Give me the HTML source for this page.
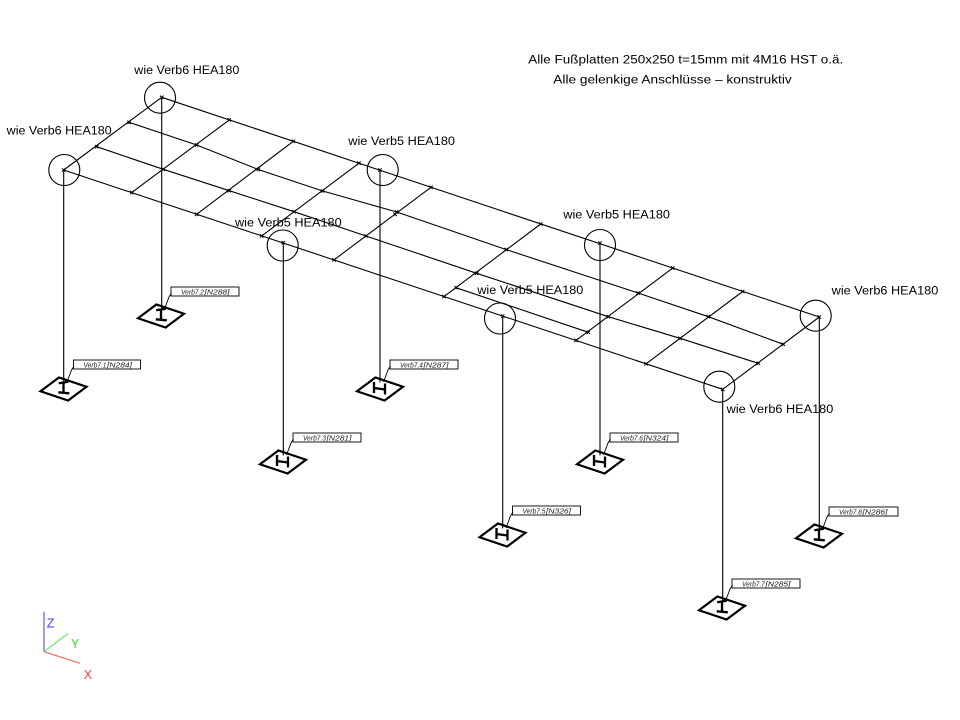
<!DOCTYPE html>
<html><head><meta charset="utf-8"><style>
html,body{margin:0;padding:0;background:#fff;}
svg{display:block;}
text{font-family:"Liberation Sans","DejaVu Sans",sans-serif;}
</style></head><body>
<svg width="960" height="720" viewBox="0 0 960 720" xmlns="http://www.w3.org/2000/svg">
<rect width="960" height="720" fill="#fff"/>
<g stroke="#000" stroke-width="1.1" fill="none" stroke-linecap="round">
<line x1="63.7" y1="170" x2="722.7" y2="389.3"/>
<line x1="161.7" y1="97.3" x2="819.3" y2="317"/>
<polyline points="96.7,146.7 163.3,169.3 229.3,190.7 294,211.7 366,236 476.7,273.3 608.3,316.7 680,338.3 758.3,363.3"/>
<polyline points="129,122.3 196.7,145 258.3,169.5 322.7,191 396.7,212 506,249.5 638,293 708.3,316.7 783.3,344.3"/>
<line x1="456" y1="287.7" x2="588.3" y2="332.3"/>
<line x1="63.7" y1="170" x2="161.7" y2="97.3"/>
<line x1="131.7" y1="192.6" x2="229.3" y2="119.9"/>
<line x1="196.7" y1="214.3" x2="293.3" y2="141.3"/>
<line x1="261.7" y1="235.9" x2="359" y2="163.2"/>
<line x1="334" y1="259.9" x2="431" y2="187.3"/>
<line x1="444" y1="296.6" x2="540.7" y2="224"/>
<line x1="576" y1="340.4" x2="672.7" y2="268.1"/>
<line x1="646" y1="363.8" x2="742.7" y2="291.5"/>
<line x1="722.7" y1="389.3" x2="819.3" y2="317"/>
<line x1="63.7" y1="170" x2="63.7" y2="382"/>
<line x1="161.7" y1="97.3" x2="161.7" y2="309"/>
<line x1="283.3" y1="242.7" x2="283.3" y2="455"/>
<line x1="380" y1="170" x2="380" y2="382"/>
<line x1="502.7" y1="316" x2="502.7" y2="528"/>
<line x1="600" y1="243" x2="600" y2="455"/>
<line x1="722.7" y1="389.3" x2="722.7" y2="601"/>
<line x1="819.3" y1="317" x2="819.3" y2="529"/>
<circle cx="160" cy="97.7" r="15.5"/>
<circle cx="64.3" cy="170" r="15.5"/>
<circle cx="382.7" cy="170" r="15.5"/>
<circle cx="282.7" cy="245.5" r="15.5"/>
<circle cx="600" cy="245" r="15.5"/>
<circle cx="500" cy="318.5" r="15.5"/>
<circle cx="815.7" cy="315.7" r="15.5"/>
<circle cx="719.3" cy="386.7" r="15.5"/>
</g>
<g stroke="#000" stroke-width="1" fill="none">
<path d="
M62 168.3l3.4 3.4M62 171.7l3.4 -3.4
M95 145l3.4 3.4M95 148.4l3.4 -3.4
M127.3 120.6l3.4 3.4M127.3 124l3.4 -3.4
M160 95.6l3.4 3.4M160 99l3.4 -3.4
M130 190.9l3.4 3.4M130 194.3l3.4 -3.4
M161.6 167.6l3.4 3.4M161.6 171l3.4 -3.4
M195 143.3l3.4 3.4M195 146.7l3.4 -3.4
M227.6 118.2l3.4 3.4M227.6 121.6l3.4 -3.4
M195 212.6l3.4 3.4M195 216l3.4 -3.4
M227.6 189l3.4 3.4M227.6 192.4l3.4 -3.4
M256.6 167.8l3.4 3.4M256.6 171.2l3.4 -3.4
M291.6 139.6l3.4 3.4M291.6 143l3.4 -3.4
M260 234.2l3.4 3.4M260 237.6l3.4 -3.4
M281.6 241l3.4 3.4M281.6 244.4l3.4 -3.4
M292.3 210l3.4 3.4M292.3 213.4l3.4 -3.4
M321 189.3l3.4 3.4M321 192.7l3.4 -3.4
M357.3 161.5l3.4 3.4M357.3 164.9l3.4 -3.4
M378.3 168.3l3.4 3.4M378.3 171.7l3.4 -3.4
M332.3 258.2l3.4 3.4M332.3 261.6l3.4 -3.4
M364.3 234.3l3.4 3.4M364.3 237.7l3.4 -3.4
M393.3 212.6l3.4 3.4M393.3 216l3.4 -3.4
M395 210.3l3.4 3.4M395 213.7l3.4 -3.4
M429.3 185.6l3.4 3.4M429.3 189l3.4 -3.4
M442.3 294.9l3.4 3.4M442.3 298.3l3.4 -3.4
M454.3 286l3.4 3.4M454.3 289.4l3.4 -3.4
M475 271.6l3.4 3.4M475 275l3.4 -3.4
M504.3 247.8l3.4 3.4M504.3 251.2l3.4 -3.4
M539 222.3l3.4 3.4M539 225.7l3.4 -3.4
M501 314.3l3.4 3.4M501 317.7l3.4 -3.4
M598.3 241.3l3.4 3.4M598.3 244.7l3.4 -3.4
M574.3 338.7l3.4 3.4M574.3 342.1l3.4 -3.4
M586.6 330.6l3.4 3.4M586.6 334l3.4 -3.4
M606.6 315l3.4 3.4M606.6 318.4l3.4 -3.4
M636.3 291.3l3.4 3.4M636.3 294.7l3.4 -3.4
M671 266.4l3.4 3.4M671 269.8l3.4 -3.4
M644.3 362.1l3.4 3.4M644.3 365.5l3.4 -3.4
M678.3 336.6l3.4 3.4M678.3 340l3.4 -3.4
M706.6 315l3.4 3.4M706.6 318.4l3.4 -3.4
M741 289.8l3.4 3.4M741 293.2l3.4 -3.4
M721 387.6l3.4 3.4M721 391l3.4 -3.4
M756.6 361.6l3.4 3.4M756.6 365l3.4 -3.4
M781.6 342.6l3.4 3.4M781.6 346l3.4 -3.4
M817.6 315.3l3.4 3.4M817.6 318.7l3.4 -3.4
"/>
</g>
<g stroke="#000" fill="none" stroke-linejoin="miter">
<polygon stroke-width="2.2" points="40.5,391.3 58.9,377.5 86.5,386.7 68.1,400.5"/>
<polygon stroke-width="2.2" points="138,318.3 156.4,304.5 184,313.7 165.6,327.5"/>
<polygon stroke-width="2.2" points="260,464.3 278.4,450.5 306,459.7 287.6,473.5"/>
<polygon stroke-width="2.2" points="357,391.3 375.4,377.5 403,386.7 384.6,400.5"/>
<polygon stroke-width="2.2" points="479.5,537.3 497.9,523.5 525.5,532.7 507.1,546.5"/>
<polygon stroke-width="2.2" points="577,464.3 595.4,450.5 623,459.7 604.6,473.5"/>
<polygon stroke-width="2.2" points="699,610.3 717.4,596.5 745,605.7 726.6,619.5"/>
<polygon stroke-width="2.2" points="796,538.3 814.4,524.5 842,533.7 823.6,547.5"/>
</g>
<g stroke="#000" stroke-width="2.3" fill="none">
<path d="M58.7 383.3L68.3 381.7M63.5 382.5V392.8M58.3 392.3L69.3 393.3"/>
<path d="M156.2 310.3L165.8 308.7M161 309.5V319.8M155.8 319.3L166.8 320.3"/>
<path d="M717.2 602.3L726.8 600.7M722 601.5V611.8M716.8 611.3L727.8 612.3"/>
<path d="M814.2 530.3L823.8 528.7M819 529.5V539.8M813.8 539.3L824.8 540.3"/>
<path d="M277 455V466M288 456.5V467.5M277 461L288 462.5"/>
<path d="M374 382V393M385 383.5V394.5M374 388L385 389.5"/>
<path d="M496.5 528V539M507.5 529.5V540.5M496.5 534L507.5 535.5"/>
<path d="M594 455V466M605 456.5V467.5M594 461L605 462.5"/>
</g>
<g stroke="#000" stroke-width="0.9" fill="#fff">
<rect x="73.5" y="360" width="67" height="9"/>
<rect x="171" y="287" width="68" height="9"/>
<rect x="293" y="433" width="68" height="9"/>
<rect x="390" y="360" width="68" height="9"/>
<rect x="512.5" y="506" width="68" height="9"/>
<rect x="610" y="433" width="68" height="9"/>
<rect x="732" y="579" width="68" height="9"/>
<rect x="829" y="507" width="69" height="9"/>
</g>
<g stroke="#000" stroke-width="0.9" fill="none">
<path d="M74 366L71.5 370L67 382"/>
<path d="M171.5 293L169 297L164.5 309"/>
<path d="M293.5 439L291 443L286.5 455"/>
<path d="M390.5 366L388 370L383.5 382"/>
<path d="M513 512L510.5 516L506 528"/>
<path d="M610.5 439L608 443L603.5 455"/>
<path d="M732.5 585L730 589L725.5 601"/>
<path d="M829.5 513L827 517L822.5 529"/>
</g>
<g font-size="7.6" font-style="italic" fill="#222">
<text x="83.5" y="367.3" textLength="23" lengthAdjust="spacingAndGlyphs">Verb7.1</text><text x="107" y="367.3" textLength="25" lengthAdjust="spacingAndGlyphs">[N284]</text>
<text x="181" y="294.3" textLength="23" lengthAdjust="spacingAndGlyphs">Verb7.2</text><text x="204.5" y="294.3" textLength="25" lengthAdjust="spacingAndGlyphs">[N288]</text>
<text x="303" y="440.3" textLength="23" lengthAdjust="spacingAndGlyphs">Verb7.3</text><text x="326.5" y="440.3" textLength="25" lengthAdjust="spacingAndGlyphs">[N281]</text>
<text x="400" y="367.3" textLength="23" lengthAdjust="spacingAndGlyphs">Verb7.4</text><text x="423.5" y="367.3" textLength="25" lengthAdjust="spacingAndGlyphs">[N287]</text>
<text x="522.5" y="513.3" textLength="23" lengthAdjust="spacingAndGlyphs">Verb7.5</text><text x="546" y="513.3" textLength="25" lengthAdjust="spacingAndGlyphs">[N326]</text>
<text x="620" y="440.3" textLength="23" lengthAdjust="spacingAndGlyphs">Verb7.6</text><text x="643.5" y="440.3" textLength="25" lengthAdjust="spacingAndGlyphs">[N324]</text>
<text x="742" y="586.3" textLength="23" lengthAdjust="spacingAndGlyphs">Verb7.7</text><text x="765.5" y="586.3" textLength="25" lengthAdjust="spacingAndGlyphs">[N285]</text>
<text x="839" y="514.3" textLength="23" lengthAdjust="spacingAndGlyphs">Verb7.8</text><text x="862.5" y="514.3" textLength="25" lengthAdjust="spacingAndGlyphs">[N286]</text>
</g>
<g font-size="11.5" fill="#000">
<text x="134.3" y="74" textLength="105" lengthAdjust="spacingAndGlyphs">wie Verb6 HEA180</text>
<text x="6.7" y="134.7" textLength="105" lengthAdjust="spacingAndGlyphs">wie Verb6 HEA180</text>
<text x="348.3" y="145" textLength="106.7" lengthAdjust="spacingAndGlyphs">wie Verb5 HEA180</text>
<text x="235" y="226.3" textLength="106.7" lengthAdjust="spacingAndGlyphs">wie Verb5 HEA180</text>
<text x="563.3" y="218.7" textLength="106.7" lengthAdjust="spacingAndGlyphs">wie Verb5 HEA180</text>
<text x="477.3" y="294" textLength="106" lengthAdjust="spacingAndGlyphs">wie Verb5 HEA180</text>
<text x="831.7" y="294.7" textLength="106.6" lengthAdjust="spacingAndGlyphs">wie Verb6 HEA180</text>
<text x="726.7" y="413" textLength="106.6" lengthAdjust="spacingAndGlyphs">wie Verb6 HEA180</text>
<text x="528.3" y="63.5" textLength="315" lengthAdjust="spacingAndGlyphs">Alle Fußplatten 250x250 t=15mm mit 4M16 HST o.ä.</text>
<text x="553.3" y="83.3" textLength="238.4" lengthAdjust="spacingAndGlyphs">Alle gelenkige Anschlüsse – konstruktiv</text>
</g>
<g stroke-width="1.2" fill="none">
<line x1="44" y1="651.7" x2="44" y2="611.7" stroke="#5a5aff"/>
<line x1="44" y1="651.7" x2="68.3" y2="633.3" stroke="#6ee66e"/>
<line x1="44" y1="651.7" x2="80" y2="663.3" stroke="#ff6464"/>
</g>
<g font-size="12.5">
<text x="46.8" y="627.3" fill="#3c3cff">Z</text>
<text x="71" y="648" fill="#3cd23c">Y</text>
<text x="83.8" y="679" fill="#ff3c3c">X</text>
</g>
</svg>
</body></html>
